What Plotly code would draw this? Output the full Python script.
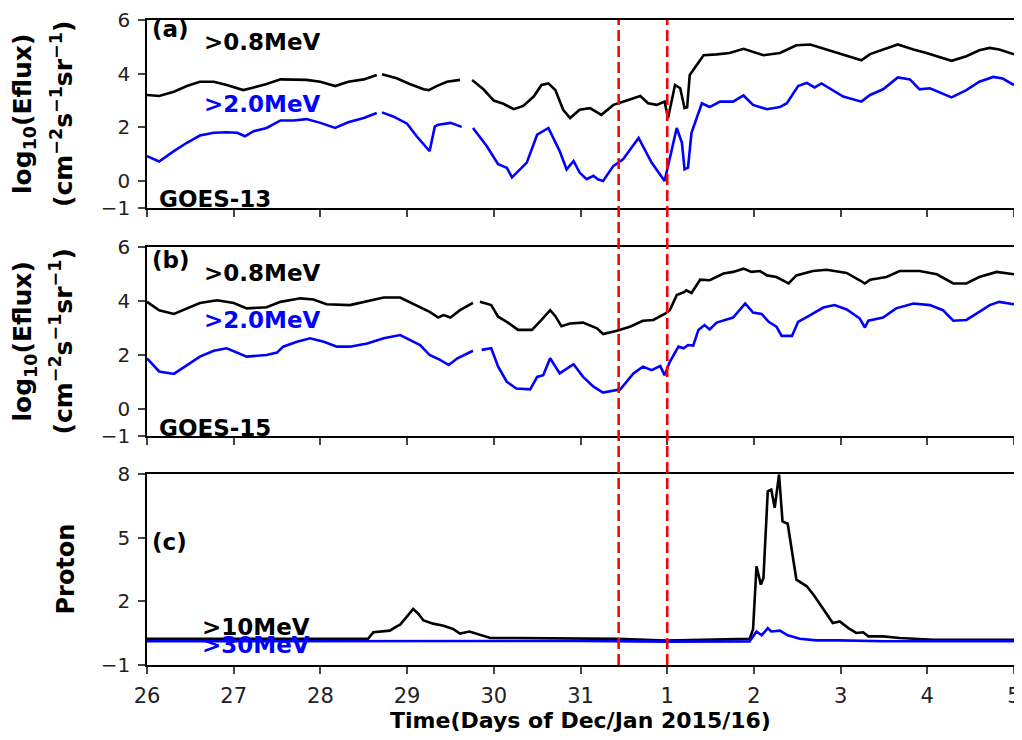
import plotly.graph_objects as go

# time in days since 26 Dec 2015 00:00 UT
tick_vals = [0, 1, 2, 3, 4, 5, 6, 7, 8, 9, 10]
tick_text = ["26", "27", "28", "29", "30", "31", "1", "2", "3", "4", "5"]

# vertical event markers (days since 26 Dec)
event_days = [5.44, 6.0]

# GOES-13 log10 electron flux
g13_t_08 = [0.00, 0.14, 0.31, 0.46, 0.61, 0.77, 0.92, 1.11, 1.23, 1.38, 1.54, 1.69, 1.84, 2.00,
            2.17, 2.32, 2.50, 2.65, 2.68, 2.71, 2.88, 3.03, 3.19, 3.25, 3.34, 3.46, 3.61, 3.68,
            3.75, 3.88, 4.00, 4.11, 4.23, 4.34, 4.46, 4.55, 4.63, 4.71, 4.80, 4.88, 4.99, 5.11,
            5.24, 5.38, 5.49, 5.69, 5.78, 5.88, 5.97, 6.01, 6.09, 6.15, 6.20, 6.23, 6.26, 6.42,
            6.57, 6.72, 6.88, 7.11, 7.30, 7.49, 7.65, 7.76, 7.99, 8.24, 8.34, 8.49, 8.66, 8.84,
            8.99, 9.28, 9.45, 9.60, 9.72, 9.83, 10.0]
g13_e08 = [3.21, 3.17, 3.33, 3.54, 3.70, 3.70, 3.58, 3.39, 3.49, 3.62, 3.79, 3.77, 3.77, 3.70,
           3.54, 3.70, 3.79, 3.95, None, 3.98, 3.83, 3.62, 3.42, 3.39, 3.54, 3.70, 3.77, None,
           3.77, 3.42, 3.00, 2.88, 2.68, 2.80, 3.15, 3.58, 3.64, 3.39, 2.66, 2.35, 2.66, 2.72,
           2.47, 2.84, 2.96, 3.17, 2.90, 2.84, 2.96, 2.35, 3.58, 3.46, 2.72, 2.75, 3.95, 4.69,
           4.72, 4.77, 4.93, 4.69, 4.77, 5.06, 5.09, 4.98, 4.73, 4.50, 4.73, 4.90, 5.09, 4.90,
           4.77, 4.48, 4.65, 4.87, 4.96, 4.90, 4.72]

g13_t_20 = [0.00, 0.14, 0.31, 0.46, 0.61, 0.77, 0.92, 1.04, 1.13, 1.23, 1.38, 1.54, 1.69, 1.84,
            2.00, 2.17, 2.32, 2.50, 2.65, 2.68, 2.71, 2.84, 3.00, 3.11, 3.26, 3.32, 3.36, 3.50,
            3.63, 3.69, 3.76, 3.92, 4.05, 4.15, 4.21, 4.30, 4.38, 4.50, 4.63, 4.76, 4.84, 4.92,
            4.99, 5.07, 5.15, 5.20, 5.26, 5.38, 5.49, 5.67, 5.82, 5.97, 6.03, 6.11, 6.17, 6.20,
            6.24, 6.28, 6.40, 6.49, 6.61, 6.76, 6.88, 6.99, 7.15, 7.30, 7.38, 7.51, 7.61, 7.70,
            7.78, 8.03, 8.24, 8.34, 8.49, 8.66, 8.80, 8.91, 9.03, 9.28, 9.45, 9.60, 9.76, 9.87,
            10.0]
g13_e20 = [0.93, 0.73, 1.12, 1.43, 1.70, 1.80, 1.82, 1.80, 1.67, 1.86, 1.98, 2.26, 2.26, 2.31,
           2.17, 1.98, 2.19, 2.35, 2.54, None, 2.56, 2.41, 2.14, 1.67, 1.12, 2.04, 2.10, 2.17,
           2.02, None, 1.98, 1.30, 0.63, 0.50, 0.14, 0.44, 0.69, 1.73, 1.98, 1.12, 0.44, 0.75,
           0.32, 0.07, 0.20, 0.07, 0.01, 0.57, 0.81, 1.61, 0.69, 0.01, 0.81, 1.98, 1.43, 0.44,
           0.50, 1.80, 2.90, 2.76, 2.96, 2.96, 3.19, 2.84, 2.68, 2.76, 2.90, 3.54, 3.66, 3.49,
           3.64, 3.15, 2.96, 3.21, 3.42, 3.86, 3.79, 3.42, 3.46, 3.12, 3.39, 3.70, 3.88, 3.82,
           3.58]

# GOES-15 log10 electron flux
g15_t_08 = [0.00, 0.14, 0.31, 0.46, 0.61, 0.81, 1.00, 1.15, 1.38, 1.54, 1.77, 1.92, 2.07, 2.34,
            2.54, 2.73, 2.92, 3.11, 3.26, 3.36, 3.42, 3.50, 3.61, 3.76, 3.80, 3.84, 3.97, 4.05,
            4.15, 4.28, 4.44, 4.55, 4.65, 4.71, 4.78, 4.88, 5.03, 5.19, 5.26, 5.42, 5.57, 5.72,
            5.84, 5.97, 6.03, 6.11, 6.20, 6.22, 6.28, 6.38, 6.49, 6.65, 6.76, 6.88, 6.97, 7.07,
            7.15, 7.26, 7.40, 7.49, 7.68, 7.84, 8.07, 8.22, 8.28, 8.34, 8.53, 8.68, 8.91, 9.11,
            9.30, 9.45, 9.60, 9.80, 10.0]
g15_e08 = [3.97, 3.66, 3.52, 3.73, 3.93, 4.03, 3.93, 3.73, 3.77, 3.97, 4.10, 4.06, 3.88, 3.85,
           3.99, 4.13, 4.13, 3.85, 3.60, 3.39, 3.48, 3.39, 3.66, 3.93, None, 3.97, 3.85, 3.42,
           3.23, 2.93, 2.93, 3.30, 3.66, 3.44, 3.07, 3.17, 3.20, 2.99, 2.78, 2.90, 3.05, 3.27,
           3.30, 3.52, 3.66, 4.22, 4.34, 4.40, 4.30, 4.79, 4.77, 5.02, 5.08, 5.20, 5.08, 5.11,
           4.95, 4.89, 4.65, 4.95, 5.11, 5.16, 5.04, 4.77, 4.65, 4.79, 4.89, 5.11, 5.11, 4.99,
           4.65, 4.65, 4.89, 5.08, 4.99]

g15_t_20 = [0.00, 0.14, 0.31, 0.46, 0.61, 0.77, 0.92, 1.15, 1.38, 1.50, 1.57, 1.73, 1.88, 2.04,
            2.19, 2.34, 2.54, 2.73, 2.92, 3.15, 3.26, 3.38, 3.48, 3.58, 3.76, 3.81, 3.86, 3.97,
            4.05, 4.15, 4.26, 4.42, 4.50, 4.57, 4.65, 4.76, 4.92, 5.03, 5.15, 5.26, 5.46, 5.61,
            5.72, 5.82, 5.92, 5.97, 6.03, 6.13, 6.19, 6.24, 6.30, 6.36, 6.43, 6.49, 6.57, 6.76,
            6.90, 6.99, 7.09, 7.17, 7.26, 7.32, 7.44, 7.51, 7.65, 7.80, 7.93, 8.07, 8.22, 8.28,
            8.32, 8.49, 8.64, 8.84, 9.03, 9.18, 9.30, 9.45, 9.60, 9.72, 9.83, 10.0]
g15_e20 = [1.88, 1.39, 1.30, 1.63, 1.94, 2.16, 2.25, 1.94, 2.00, 2.09, 2.31, 2.49, 2.62, 2.49,
           2.31, 2.31, 2.43, 2.62, 2.74, 2.37, 2.00, 1.82, 1.63, 1.88, 2.16, None, 2.19, 2.25,
           1.57, 1.01, 0.76, 0.73, 1.19, 1.25, 1.88, 1.32, 1.66, 1.19, 0.83, 0.61, 0.73, 1.32,
           1.57, 1.44, 1.59, 1.25, 1.75, 2.31, 2.25, 2.37, 2.35, 2.93, 3.11, 2.95, 3.20, 3.39,
           3.91, 3.57, 3.52, 3.23, 3.05, 2.71, 2.71, 3.23, 3.48, 3.76, 3.85, 3.69, 3.36, 3.02,
           3.27, 3.39, 3.73, 3.91, 3.85, 3.66, 3.27, 3.30, 3.60, 3.85, 3.97, 3.88]

# proton flux
p_t_10 = [0.00, 1.00, 2.00, 2.55, 2.61, 2.75, 2.80, 2.88, 2.92, 3.00, 3.07, 3.13, 3.19, 3.30,
          3.42, 3.53, 3.61, 3.72, 3.84, 3.96, 4.26, 5.00, 5.42, 5.99, 6.50, 6.95, 6.99, 7.03,
          7.08, 7.11, 7.16, 7.20, 7.24, 7.29, 7.33, 7.39, 7.49, 7.61, 7.70, 7.80, 7.91, 7.99,
          8.09, 8.18, 8.26, 8.32, 8.49, 8.68, 9.07, 10.0]
p_10 = [0.23, 0.22, 0.23, 0.24, 0.54, 0.58, 0.62, 0.82, 0.90, 1.29, 1.64, 1.41, 1.10, 0.95,
        0.85, 0.70, 0.48, 0.58, 0.43, 0.27, 0.27, 0.25, 0.23, 0.15, 0.20, 0.23, 0.67, 3.65,
        2.79, 3.10, 7.19, 7.27, 6.41, 7.98, 5.77, 5.66, 3.02, 2.71, 2.24, 1.61, 0.98, 1.05,
        0.74, 0.51, 0.54, 0.35, 0.35, 0.27, 0.19, 0.19]

p_t_30 = [0.00, 2.00, 3.00, 4.00, 5.00, 6.00, 6.95, 7.03, 7.09, 7.16, 7.20, 7.30, 7.39, 7.53,
          7.72, 7.99, 8.50, 10.0]
p_30 = [0.12, 0.12, 0.14, 0.12, 0.13, 0.10, 0.11, 0.58, 0.40, 0.74, 0.58, 0.62, 0.40, 0.24,
        0.16, 0.16, 0.12, 0.12]

FONT = "DejaVu Sans"
# the page body keeps its default 8px margin, so the plot area is shifted by that
L, T = 139, 12

fig = go.Figure()


def line(x, y, color, xa, ya):
    fig.add_trace(go.Scatter(x=x, y=y, mode="lines", line=dict(color=color, width=2.6),
                             connectgaps=False, xaxis=xa, yaxis=ya, showlegend=False))


line(g13_t_08, g13_e08, "black", "x", "y")
line(g13_t_20, g13_e20, "blue", "x", "y")
line(g15_t_08, g15_e08, "black", "x2", "y2")
line(g15_t_20, g15_e20, "blue", "x2", "y2")
line(p_t_10, p_10, "black", "x3", "y3")
line(p_t_30, p_30, "blue", "x3", "y3")

xcommon = dict(range=[0, 10], tickvals=tick_vals, ticktext=tick_text, ticks="outside",
               ticklen=7, tickwidth=1.5, showline=True, linewidth=1.5, linecolor="black",
               mirror=True, showgrid=False, zeroline=False, automargin=False,
               tickfont=dict(family=FONT, size=21, color="#222"))
ycommon = dict(ticks="outside", ticklen=7, tickwidth=1.5, showline=True, linewidth=1.5,
               linecolor="black", mirror=True, showgrid=False, zeroline=False, automargin=False,
               ticklabelstandoff=4, tickfont=dict(family=FONT, size=20, color="#222"))

fig.update_layout(
    width=1022, height=740,
    margin=dict(l=L, r=1022 - L - 867, t=T, b=740 - T - 645),
    plot_bgcolor="white", paper_bgcolor="white",
    xaxis=dict(xcommon, anchor="y", showticklabels=False),
    xaxis2=dict(xcommon, anchor="y2", showticklabels=False),
    xaxis3=dict(xcommon, anchor="y3", ticklabelstandoff=4,
                title=dict(text="<b>Time(Days of Dec/Jan 2015/16)</b>", standoff=1,
                           font=dict(family=FONT, size=22, color="black"))),
    yaxis=dict(ycommon, domain=[0.7085, 1.0], range=[-1, 6], tickvals=[-1, 0, 2, 4, 6]),
    yaxis2=dict(ycommon, domain=[0.355, 0.648], range=[-1, 6], tickvals=[-1, 0, 2, 4, 6]),
    yaxis3=dict(ycommon, domain=[0.0, 0.296], range=[-1, 8], tickvals=[-1, 2, 5, 8]),
)

for d in event_days:
    fig.add_shape(type="line", xref="x3", yref="paper", x0=d, x1=d, y0=0, y1=1,
                  line=dict(color="red", width=2.6, dash="11px,5px"))


def label(text, x, y, xa, ya, color="black"):
    fig.add_annotation(text="<b>%s</b>" % text, x=x, y=y, xref=xa, yref=ya,
                       xanchor="left", yanchor="middle", showarrow=False,
                       font=dict(family=FONT, size=23, color=color))


label("(a)", 0.04, 5.68, "x", "y")
label("&gt;0.8MeV", 0.63, 5.17, "x", "y")
label("&gt;2.0MeV", 0.63, 2.88, "x", "y", "blue")
label("GOES-13", 0.12, -0.66, "x", "y")
label("(b)", 0.04, 5.53, "x2", "y2")
label("&gt;0.8MeV", 0.63, 5.03, "x2", "y2")
label("&gt;2.0MeV", 0.63, 3.30, "x2", "y2", "blue")
label("GOES-15", 0.12, -0.69, "x2", "y2")
label("(c)", 0.04, 4.82, "x3", "y3")
label("&gt;10MeV", 0.61, 0.81, "x3", "y3")
label("&gt;30MeV", 0.61, -0.04, "x3", "y3", "blue")

# rotated y-axis titles (x given in screen pixels)
ytitles = [
    ("y domain", 24, "<b>log<sub>10</sub>(Eflux)</b>", 25),
    ("y domain", 62, "<b>(cm<sup>−2</sup>s<sup>−1</sup>sr<sup>−1</sup>)</b>", 25),
    ("y2 domain", 24, "<b>log<sub>10</sub>(Eflux)</b>", 25),
    ("y2 domain", 62, "<b>(cm<sup>−2</sup>s<sup>−1</sup>sr<sup>−1</sup>)</b>", 25),
    ("y3 domain", 66, "<b>Proton</b>", 24),
]
for yref, xpix, txt, size in ytitles:
    fig.add_annotation(text=txt, xref="paper", yref=yref, x=(xpix - 147) / 867,
                       y=0.5, xanchor="center", yanchor="middle", textangle=-90,
                       showarrow=False, font=dict(family=FONT, size=size, color="black"))

fig.write_html("out.html", config={"displayModeBar": False})
